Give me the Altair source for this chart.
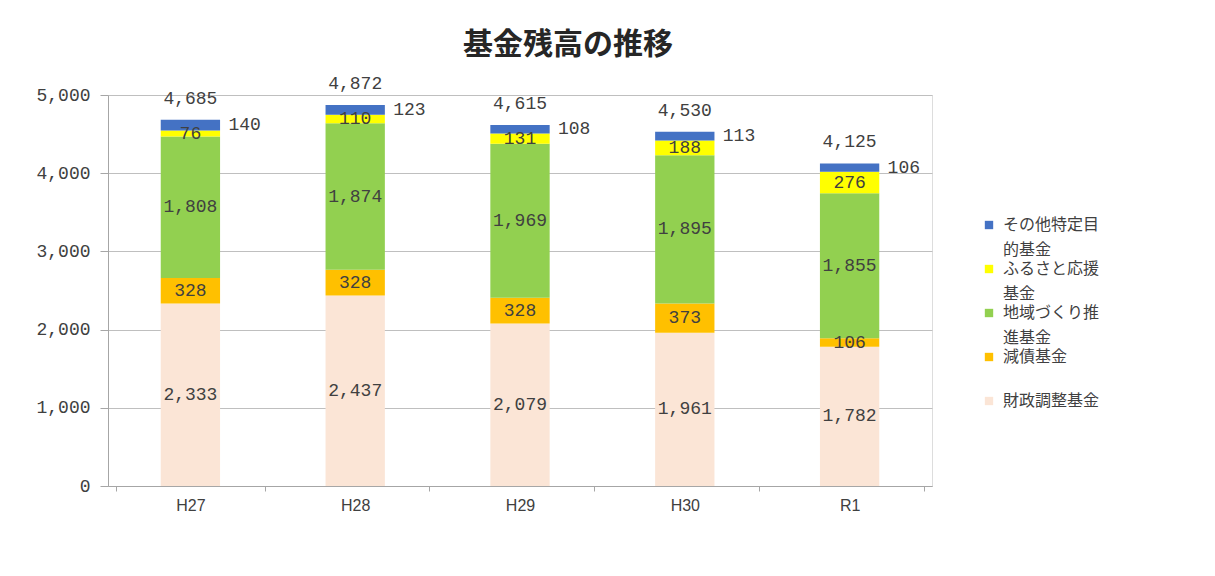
import altair as alt
import pandas as pd

years = ["H27", "H28", "H29", "H30", "R1"]
series = ["その他特定目的基金", "ふるさと応援基金", "地域づくり推進基金", "減債基金", "財政調整基金"]
colors = ["#4472C4", "#FFFF00", "#92D050", "#FFC000", "#FBE5D6"]

zaisei = [2333, 2437, 2079, 1961, 1782]
gensai = [328, 328, 328, 373, 106]
chiiki = [1808, 1874, 1969, 1895, 1855]
furusato = [76, 110, 131, 188, 276]
sonota = [140, 123, 108, 113, 106]
totals = [4685, 4872, 4615, 4530, 4125]

stack_series = [
    ("財政調整基金", zaisei),
    ("減債基金", gensai),
    ("地域づくり推進基金", chiiki),
    ("ふるさと応援基金", furusato),
    ("その他特定目的基金", sonota),
]

rows = []
for i, yr in enumerate(years):
    for k, (name, vals) in enumerate(stack_series):
        rows.append({"year": yr, "series": name, "value": vals[i], "order": k})
df = pd.DataFrame(rows)
tot = pd.DataFrame({"year": years, "total": totals})

MONO = "Liberation Mono"
JP = "Noto Sans CJK JP"
TXT = "#404040"
NUM = 18

x_enc = alt.X(
    "year:N",
    sort=years,
    title=None,
    axis=alt.Axis(
        labelAngle=0,
        tickBand="extent",
        labelFont="Liberation Sans",
        labelFontSize=16,
        labelColor=TXT,
        labelPadding=6,
        domainColor="#a6a6a6",
        tickColor="#a6a6a6",
        tickSize=5,
        grid=False,
    ),
)

y_scale = alt.Scale(domain=[0, 5000], nice=False)
y_axis = alt.Axis(
    values=[0, 1000, 2000, 3000, 4000, 5000],
    labelExpr="format(datum.value, ',')",
    title=None,
    labelFont=MONO,
    labelFontSize=NUM,
    labelColor=TXT,
    labelPadding=10,
    tickSize=8,
    tickColor="#a6a6a6",
    domainColor="#a6a6a6",
    gridColor="#bfbfbf",
)


def yenc(field):
    return alt.Y(field, scale=y_scale, axis=y_axis)


base = alt.Chart(df).transform_stack(
    stack="value",
    groupby=["year"],
    as_=["y0", "y1"],
    sort=[alt.SortField("order", order="ascending")],
).transform_calculate(mid="(datum.y0 + datum.y1) / 2")

label_expr = (
    "datum.label == 'その他特定目的基金' ? ['その他特定目', '的基金'] : "
    "datum.label == 'ふるさと応援基金' ? ['ふるさと応援', '基金'] : "
    "datum.label == '地域づくり推進基金' ? ['地域づくり推', '進基金'] : "
    "[datum.label, ' ']"
)

bars = base.mark_bar(width={"band": 0.4}).encode(
    x=x_enc,
    y=yenc("y0:Q"),
    y2="y1:Q",
    color=alt.Color(
        "series:N",
        scale=alt.Scale(domain=series, range=colors),
        legend=alt.Legend(
            title=None,
            orient="none",
            legendX=873,
            legendY=122,
            symbolType="square",
            symbolSize=70,
            symbolStrokeWidth=0,
            labelFont=JP,
            labelFontSize=16,
            labelColor=TXT,
            labelBaseline="middle",
            labelOffset=6,
            labelExpr=label_expr,
            labelLimit=300,
            rowPadding=3,
        ),
    ),
)

inner = base.transform_filter("datum.order < 4").mark_text(
    font=MONO, fontSize=NUM, color=TXT
).encode(x=x_enc, y=yenc("mid:Q"), text=alt.Text("value:Q", format=","))

outer = base.transform_filter("datum.order == 4").mark_text(
    font=MONO, fontSize=NUM, color=TXT, align="left", dx=38
).encode(x=x_enc, y=yenc("mid:Q"), text=alt.Text("value:Q", format=","))

total_text = alt.Chart(tot).mark_text(
    font=MONO, fontSize=NUM, color=TXT, dy=-21
).encode(x=x_enc, y=yenc("total:Q"), text=alt.Text("total:Q", format=","))

chart = (
    alt.layer(bars, inner, outer, total_text)
    .properties(
        width=824,
        height=391,
        autosize=alt.AutoSizeParams(type="none"),
        padding={"left": 100, "top": 87, "right": 275, "bottom": 82},
        title=alt.TitleParams(
            "基金残高の推移",
            font=JP,
            fontSize=30,
            fontWeight="bold",
            color="#262626",
            dx=48,
            offset=15,
            frame="group",
        ),
    )
    .configure_view(stroke=None)
    .configure(background="white", style={"guide-label": {"lineHeight": 25}})
)

chart.save("out.html", embed_options={"renderer": "svg", "actions": False})
